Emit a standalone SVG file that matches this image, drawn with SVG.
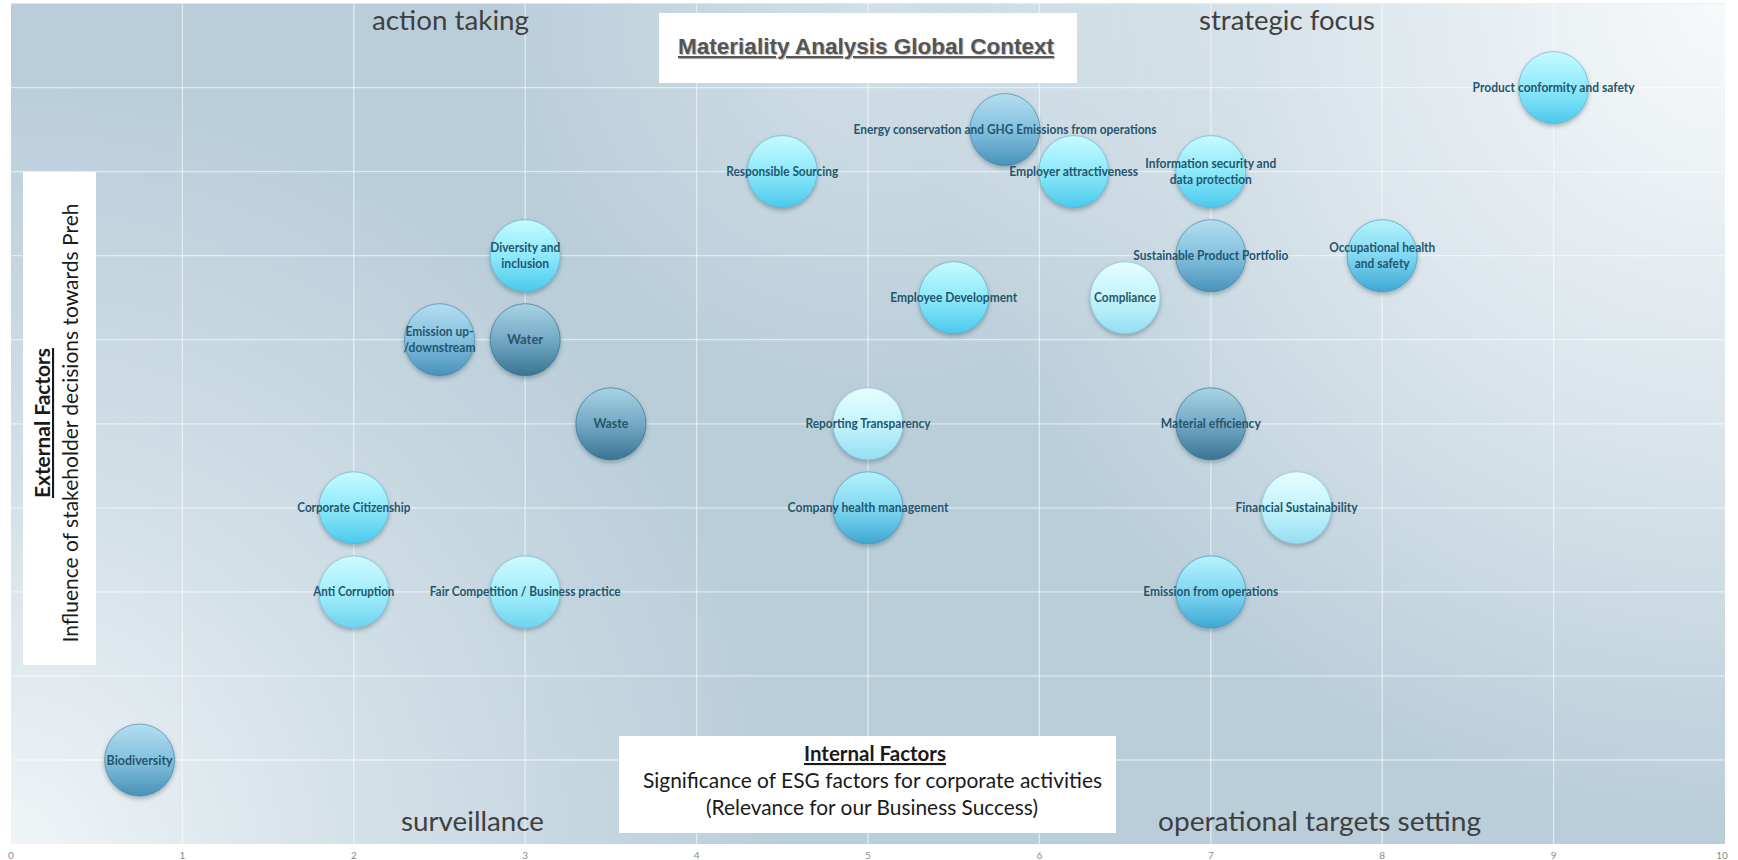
<svg xmlns="http://www.w3.org/2000/svg" width="1738" height="860" viewBox="0 0 1738 860">
<style>
.lbl{font-family:Lato,"Open Sans","DejaVu Sans Condensed",sans-serif;font-weight:bold;font-size:12.5px;fill:#24566e;text-anchor:middle}
.quad{font-family:Lato,"Open Sans",sans-serif;font-size:27px;fill:#404040}
.tick{font-family:Lato,"Open Sans",sans-serif;font-size:10px;fill:#8c8c8c;text-anchor:middle}
.ax{font-family:Lato,"Open Sans",sans-serif;font-size:21px;fill:#1a1a1a;text-anchor:middle}
.axb{font-weight:bold;text-decoration:underline}
.grid line{stroke:#ffffff;stroke-opacity:0.55;stroke-width:1.3}
.b{stroke-width:1;stroke-opacity:0.6;filter:url(#sh)}
.wbox{fill:#ffffff}
</style>
<defs>
<filter id="sh" x="-30%" y="-30%" width="160%" height="170%">
<feDropShadow dx="0" dy="2.5" stdDeviation="2" flood-color="#1d3c4c" flood-opacity="0.35"/>
</filter>
<linearGradient id="g-bright" x1="0" y1="0" x2="0" y2="1"><stop offset="0" stop-color="#c6fbff"/><stop offset="0.5" stop-color="#8ee9fa"/><stop offset="1" stop-color="#4bc9ec"/></linearGradient>
<linearGradient id="g-pale" x1="0" y1="0" x2="0" y2="1"><stop offset="0" stop-color="#e6fdff"/><stop offset="0.5" stop-color="#c4f4fc"/><stop offset="1" stop-color="#96def1"/></linearGradient>
<linearGradient id="g-light" x1="0" y1="0" x2="0" y2="1"><stop offset="0" stop-color="#cefaff"/><stop offset="0.5" stop-color="#a4eefb"/><stop offset="1" stop-color="#6dd4ef"/></linearGradient>
<linearGradient id="g-teal" x1="0" y1="0" x2="0" y2="1"><stop offset="0" stop-color="#b6f3fc"/><stop offset="0.5" stop-color="#80d8f2"/><stop offset="1" stop-color="#3ea7d3"/></linearGradient>
<linearGradient id="g-medium" x1="0" y1="0" x2="0" y2="1"><stop offset="0" stop-color="#b3def0"/><stop offset="0.5" stop-color="#84c0de"/><stop offset="1" stop-color="#4892ba"/></linearGradient>
<linearGradient id="g-dark" x1="0" y1="0" x2="0" y2="1"><stop offset="0" stop-color="#a8d3e5"/><stop offset="0.5" stop-color="#74a9c4"/><stop offset="1" stop-color="#387593"/></linearGradient>
<radialGradient id="glow-tr" gradientUnits="userSpaceOnUse" cx="1738" cy="0" r="820"><stop offset="0" stop-color="#ffffff" stop-opacity="0.9"/><stop offset="0.55" stop-color="#ffffff" stop-opacity="0.45"/><stop offset="1" stop-color="#ffffff" stop-opacity="0"/></radialGradient>
<radialGradient id="glow-bl" gradientUnits="userSpaceOnUse" cx="0" cy="860" r="780"><stop offset="0" stop-color="#ffffff" stop-opacity="0.8"/><stop offset="0.5" stop-color="#ffffff" stop-opacity="0.35"/><stop offset="1" stop-color="#ffffff" stop-opacity="0"/></radialGradient>
<radialGradient id="glow-top" gradientUnits="userSpaceOnUse" cx="880" cy="20" r="380"><stop offset="0" stop-color="#ffffff" stop-opacity="0.35"/><stop offset="1" stop-color="#ffffff" stop-opacity="0"/></radialGradient>
</defs>

<rect x="0" y="0" width="1738" height="860" fill="#ffffff"/>
<g id="plot-bg">
<rect x="11" y="3.5" width="1714" height="840.5" fill="#bacedA"/>
<rect x="11" y="3.5" width="1714" height="840.5" fill="url(#glow-tr)"/>
<rect x="11" y="3.5" width="1714" height="840.5" fill="url(#glow-bl)"/>
<rect x="11" y="3.5" width="1714" height="840.5" fill="url(#glow-top)"/>
</g>
<g class="grid" id="grid">
<line x1="182.4" y1="3.5" x2="182.4" y2="844"/>
<line x1="353.8" y1="3.5" x2="353.8" y2="844"/>
<line x1="525.2" y1="3.5" x2="525.2" y2="844"/>
<line x1="696.6" y1="3.5" x2="696.6" y2="844"/>
<line x1="868" y1="3.5" x2="868" y2="844"/>
<line x1="1039.4" y1="3.5" x2="1039.4" y2="844"/>
<line x1="1210.8" y1="3.5" x2="1210.8" y2="844"/>
<line x1="1382.2" y1="3.5" x2="1382.2" y2="844"/>
<line x1="1553.6" y1="3.5" x2="1553.6" y2="844"/>
<line x1="11" y1="760" x2="1725" y2="760"/>
<line x1="11" y1="675.9" x2="1725" y2="675.9"/>
<line x1="11" y1="591.9" x2="1725" y2="591.9"/>
<line x1="11" y1="507.8" x2="1725" y2="507.8"/>
<line x1="11" y1="423.8" x2="1725" y2="423.8"/>
<line x1="11" y1="339.7" x2="1725" y2="339.7"/>
<line x1="11" y1="255.7" x2="1725" y2="255.7"/>
<line x1="11" y1="171.6" x2="1725" y2="171.6"/>
<line x1="11" y1="87.6" x2="1725" y2="87.6"/>
</g>
<g id="ticks">
<text class="tick" x="11" y="859">0</text>
<text class="tick" x="182.4" y="859">1</text>
<text class="tick" x="353.8" y="859">2</text>
<text class="tick" x="525.2" y="859">3</text>
<text class="tick" x="696.6" y="859">4</text>
<text class="tick" x="868" y="859">5</text>
<text class="tick" x="1039.4" y="859">6</text>
<text class="tick" x="1210.8" y="859">7</text>
<text class="tick" x="1382.2" y="859">8</text>
<text class="tick" x="1553.6" y="859">9</text>
<text class="tick" x="1722" y="859">10</text>
</g>

<g id="quadrant-labels">
<text class="quad" x="372" y="30" textLength="157" lengthAdjust="spacingAndGlyphs">action taking</text>
<text class="quad" x="1199" y="30" textLength="176" lengthAdjust="spacingAndGlyphs">strategic focus</text>
<text class="quad" x="401" y="831" textLength="143" lengthAdjust="spacingAndGlyphs">surveillance</text>
<text class="quad" x="1158" y="831" textLength="323" lengthAdjust="spacingAndGlyphs">operational targets setting</text>
</g>

<g id="title">
<rect class="wbox" x="659" y="13" width="418" height="70"/>
<text x="679" y="55" font-family="'Liberation Sans',Arial,sans-serif" font-weight="bold" font-size="22" fill="#c4c4c4" text-decoration="underline" textLength="376" lengthAdjust="spacingAndGlyphs">Materiality Analysis Global Context</text>
<text x="678" y="54" font-family="'Liberation Sans',Arial,sans-serif" font-weight="bold" font-size="22" fill="#555555" text-decoration="underline" textLength="376" lengthAdjust="spacingAndGlyphs">Materiality Analysis Global Context</text>
</g>

<g id="y-axis-label">
<rect class="wbox" x="23" y="172" width="73" height="493"/>
<text class="ax axb" transform="translate(50,423) rotate(-90)" x="0" y="0" textLength="150" lengthAdjust="spacingAndGlyphs">External Factors</text>
<text class="ax" transform="translate(78,423) rotate(-90)" x="0" y="0" textLength="439" lengthAdjust="spacingAndGlyphs">Influence of stakeholder decisions towards Preh</text>
</g>

<g id="x-axis-label">
<rect class="wbox" x="619" y="736" width="497" height="97"/>
<text class="ax axb" x="875" y="761" textLength="142" lengthAdjust="spacingAndGlyphs">Internal Factors</text>
<text class="ax" x="872.5" y="788" textLength="459" lengthAdjust="spacingAndGlyphs">Significance of ESG factors for corporate activities</text>
<text class="ax" x="872" y="815" textLength="332" lengthAdjust="spacingAndGlyphs">(Relevance for our Business Success)</text>
</g>

<g id="n-product-conformity"><ellipse class="b" cx="1553.6" cy="87.6" rx="35" ry="36" fill="url(#g-bright)" stroke="#5aaecb"/><text class="lbl" x="1553.6" y="92" textLength="162" lengthAdjust="spacingAndGlyphs">Product conformity and safety</text></g>
<g id="n-energy-ghg"><ellipse class="b" cx="1005" cy="129.6" rx="35" ry="36" fill="url(#g-medium)" stroke="#3f7fa0"/><text class="lbl" x="1005" y="134" textLength="303" lengthAdjust="spacingAndGlyphs">Energy conservation and GHG Emissions from operations</text></g>
<g id="n-responsible-sourcing"><ellipse class="b" cx="782.3" cy="171.6" rx="35" ry="36" fill="url(#g-bright)" stroke="#5aaecb"/><text class="lbl" x="782.3" y="176" textLength="112" lengthAdjust="spacingAndGlyphs">Responsible Sourcing</text></g>
<g id="n-employer-attractiveness"><ellipse class="b" cx="1073.7" cy="171.6" rx="35" ry="36" fill="url(#g-bright)" stroke="#5aaecb"/><text class="lbl" x="1073.7" y="176" textLength="129" lengthAdjust="spacingAndGlyphs">Employer attractiveness</text></g>
<g id="n-information-security"><ellipse class="b" cx="1210.8" cy="171.6" rx="35" ry="36" fill="url(#g-bright)" stroke="#5aaecb"/><text class="lbl" x="1210.8" y="168" textLength="131" lengthAdjust="spacingAndGlyphs">Information security and</text><text class="lbl" x="1210.8" y="183.5" textLength="82" lengthAdjust="spacingAndGlyphs">data protection</text></g>
<g id="n-diversity"><ellipse class="b" cx="525.2" cy="255.7" rx="35" ry="36" fill="url(#g-bright)" stroke="#5aaecb"/><text class="lbl" x="525.2" y="252" textLength="70" lengthAdjust="spacingAndGlyphs">Diversity and</text><text class="lbl" x="525.2" y="267.5" textLength="48" lengthAdjust="spacingAndGlyphs">inclusion</text></g>
<g id="n-sustainable-portfolio"><ellipse class="b" cx="1210.8" cy="255.7" rx="35" ry="36" fill="url(#g-medium)" stroke="#3f7fa0"/><text class="lbl" x="1210.8" y="260" textLength="155" lengthAdjust="spacingAndGlyphs">Sustainable Product Portfolio</text></g>
<g id="n-occupational-health"><ellipse class="b" cx="1382.2" cy="255.7" rx="35" ry="36" fill="url(#g-teal)" stroke="#3b92b8"/><text class="lbl" x="1382.2" y="252" textLength="106" lengthAdjust="spacingAndGlyphs">Occupational  health</text><text class="lbl" x="1382.2" y="267.5" textLength="55" lengthAdjust="spacingAndGlyphs">and safety</text></g>
<g id="n-employee-development"><ellipse class="b" cx="953.7" cy="297.7" rx="35" ry="36" fill="url(#g-bright)" stroke="#4fa6c6"/><text class="lbl" x="953.7" y="302" textLength="127" lengthAdjust="spacingAndGlyphs">Employee Development</text></g>
<g id="n-compliance"><ellipse class="b" cx="1125.1" cy="297.7" rx="35" ry="36" fill="url(#g-pale)" stroke="#7fc3d8"/><text class="lbl" x="1125.1" y="302" textLength="62" lengthAdjust="spacingAndGlyphs">Compliance</text></g>
<g id="n-emission-updown"><ellipse class="b" cx="439.5" cy="339.7" rx="35" ry="36" fill="url(#g-medium)" stroke="#3f7fa0"/><text class="lbl" x="439.5" y="336" textLength="68" lengthAdjust="spacingAndGlyphs">Emission up-</text><text class="lbl" x="439.5" y="351.5" textLength="72" lengthAdjust="spacingAndGlyphs">/downstream</text></g>
<g id="n-water"><ellipse class="b" cx="525.2" cy="339.7" rx="35" ry="36" fill="url(#g-dark)" stroke="#2f6783"/><text class="lbl" x="525.2" y="344" textLength="36" lengthAdjust="spacingAndGlyphs">Water</text></g>
<g id="n-waste"><ellipse class="b" cx="610.9" cy="423.8" rx="35" ry="36" fill="url(#g-dark)" stroke="#2f6783"/><text class="lbl" x="610.9" y="428" textLength="35" lengthAdjust="spacingAndGlyphs">Waste</text></g>
<g id="n-reporting-transparency"><ellipse class="b" cx="868" cy="423.8" rx="35" ry="36" fill="url(#g-pale)" stroke="#7fc3d8"/><text class="lbl" x="868" y="428" textLength="125" lengthAdjust="spacingAndGlyphs">Reporting Transparency</text></g>
<g id="n-material-efficiency"><ellipse class="b" cx="1210.8" cy="423.8" rx="35" ry="36" fill="url(#g-dark)" stroke="#2f6783"/><text class="lbl" x="1210.8" y="428" textLength="100" lengthAdjust="spacingAndGlyphs">Material efficiency</text></g>
<g id="n-corporate-citizenship"><ellipse class="b" cx="353.8" cy="507.8" rx="35" ry="36" fill="url(#g-bright)" stroke="#5aaecb"/><text class="lbl" x="353.8" y="512" textLength="113" lengthAdjust="spacingAndGlyphs">Corporate Citizenship</text></g>
<g id="n-company-health"><ellipse class="b" cx="868" cy="507.8" rx="35" ry="36" fill="url(#g-teal)" stroke="#3b92b8"/><text class="lbl" x="868" y="512" textLength="161" lengthAdjust="spacingAndGlyphs">Company health management</text></g>
<g id="n-financial-sustainability"><ellipse class="b" cx="1296.5" cy="507.8" rx="35" ry="36" fill="url(#g-pale)" stroke="#7fc3d8"/><text class="lbl" x="1296.5" y="512" textLength="122" lengthAdjust="spacingAndGlyphs">Financial  Sustainability</text></g>
<g id="n-anti-corruption"><ellipse class="b" cx="353.8" cy="591.9" rx="35" ry="36" fill="url(#g-light)" stroke="#6cbcd6"/><text class="lbl" x="353.8" y="596" textLength="81" lengthAdjust="spacingAndGlyphs">Anti Corruption</text></g>
<g id="n-fair-competition"><ellipse class="b" cx="525.2" cy="591.9" rx="35" ry="36" fill="url(#g-light)" stroke="#6cbcd6"/><text class="lbl" x="525.2" y="596" textLength="191" lengthAdjust="spacingAndGlyphs">Fair Competition / Business practice</text></g>
<g id="n-emission-operations"><ellipse class="b" cx="1210.8" cy="591.9" rx="35" ry="36" fill="url(#g-teal)" stroke="#3b92b8"/><text class="lbl" x="1210.8" y="596" textLength="135" lengthAdjust="spacingAndGlyphs">Emission from operations</text></g>
<g id="n-biodiversity"><ellipse class="b" cx="139.6" cy="760" rx="35" ry="36" fill="url(#g-medium)" stroke="#3f7fa0"/><text class="lbl" x="139.6" y="764.5" textLength="66" lengthAdjust="spacingAndGlyphs">Biodiversity</text></g>
</svg>
